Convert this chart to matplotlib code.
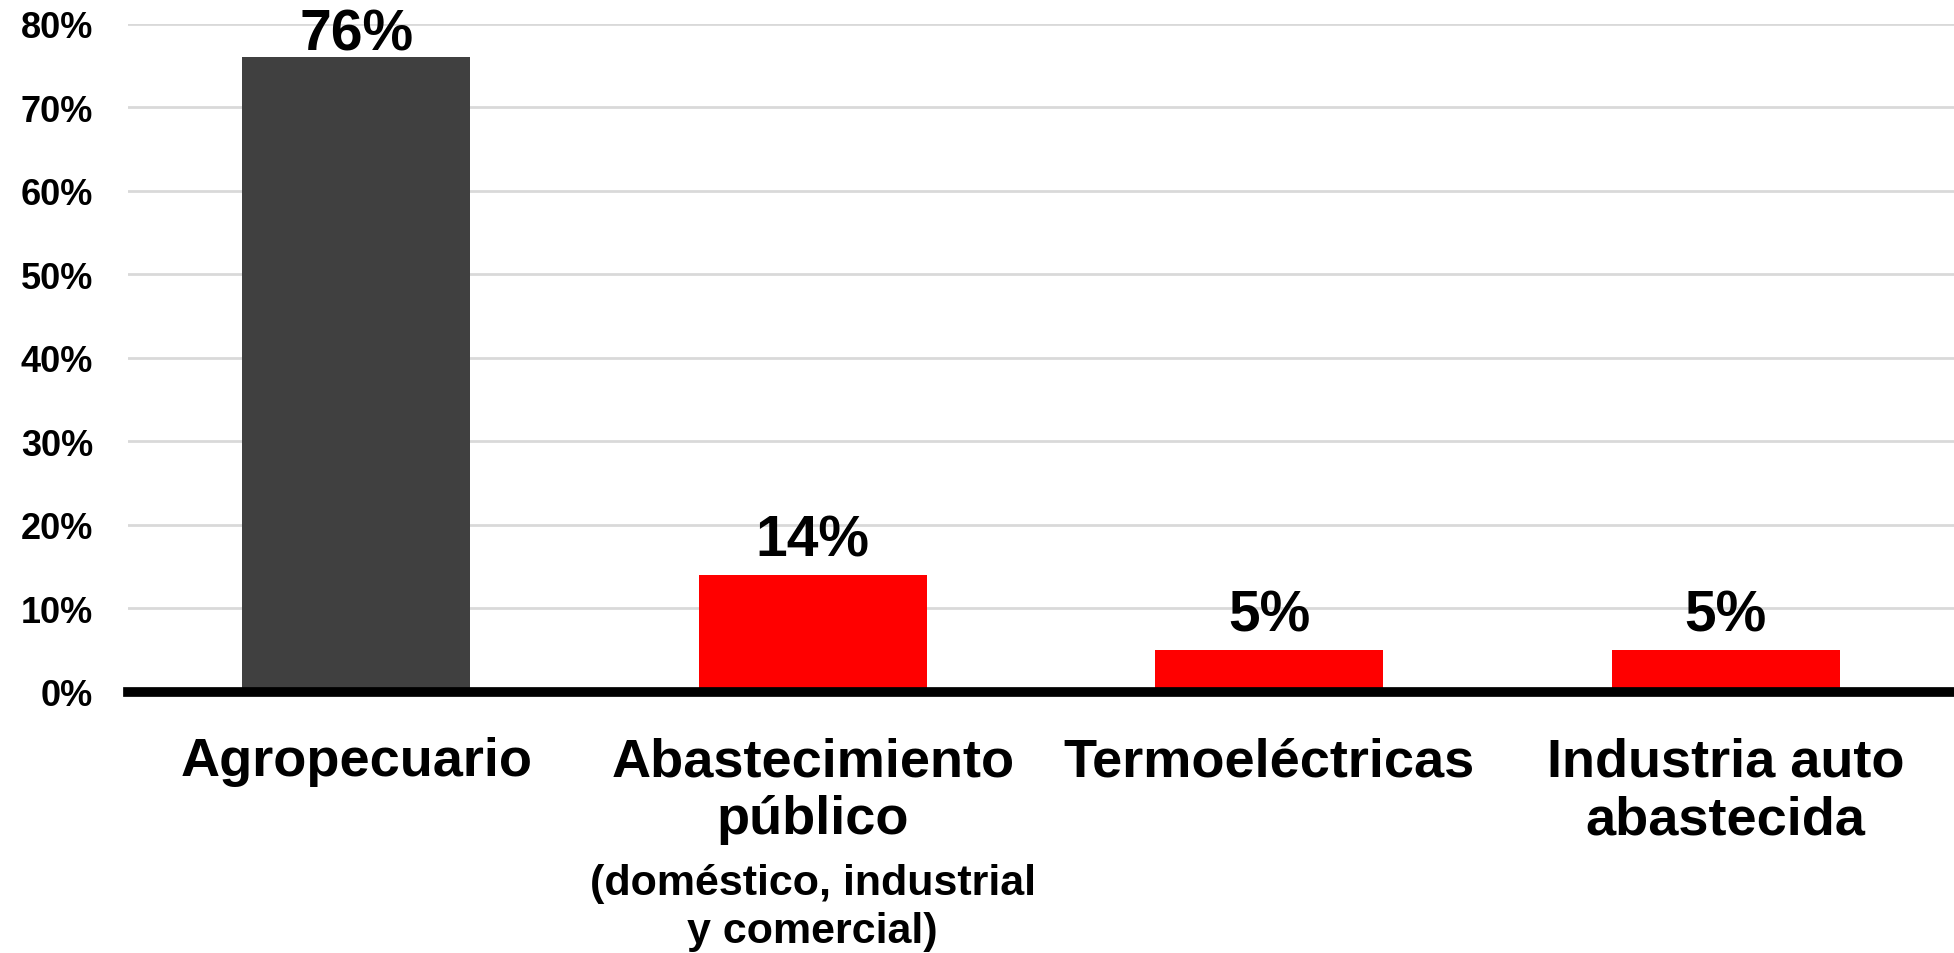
import matplotlib.pyplot as plt
from matplotlib.ticker import PercentFormatter

# datos
categorias = ["Agropecuario", "Abastecimiento\npúblico", "Termoeléctricas", "Industria auto\nabastecida"]
notas = ["", "(doméstico, industrial\ny comercial)", "", ""]
valores = [76, 14, 5, 5]
colores = ["#404040", "#ff0000", "#ff0000", "#ff0000"]
ticks_y = [0, 10, 20, 30, 40, 50, 60, 70, 80]

plt.rcParams['font.family'] = ['Liberation Sans', 'DejaVu Sans']
plt.rcParams['font.weight'] = 'bold'

fig = plt.figure(figsize=(19.54, 9.54), dpi=100)
ax = fig.add_axes([0.0655, 0.2736, 0.9345, 0.7002])

x = list(range(len(valores)))
barras = ax.bar(x, valores, width=0.5, color=colores, zorder=3)

# etiquetas encima de cada barra; la mas alta se queda dentro del grafico
for b, v in zip(barras, valores):
    ax.text(b.get_x() + b.get_width() / 2, min(v + 2.4, 77), f"{v}%",
            ha='center', va='baseline', fontsize=41, fontweight='bold',
            zorder=4, clip_on=False)

ax.set_xlim(-0.5, len(valores) - 0.5)
ax.set_ylim(0, 80)
ax.set_yticks(ticks_y)
ax.yaxis.set_major_formatter(PercentFormatter(decimals=0))
ax.tick_params(axis='y', labelsize=26, length=0, pad=25)
ax.set_xticks([])
ax.grid(axis='y', color='#d9d9d9', linewidth=2, zorder=0)
for s in ['top', 'right', 'left']:
    ax.spines[s].set_visible(False)
ax.spines['bottom'].set_linewidth(7)
ax.spines['bottom'].set_zorder(5)

for i, (cat, nota) in enumerate(zip(categorias, notas)):
    ax.annotate(cat, (i, 0), xycoords=('data', 'axes fraction'), xytext=(0, -32),
                textcoords='offset points', ha='center', va='top',
                fontsize=39, fontweight='bold', linespacing=1.2)
    if nota:
        ax.annotate(nota, (i, 0), xycoords=('data', 'axes fraction'), xytext=(0, -123),
                    textcoords='offset points', ha='center', va='top',
                    fontsize=31, fontweight='bold', linespacing=1.25)

fig.savefig('out.png', dpi=100)
